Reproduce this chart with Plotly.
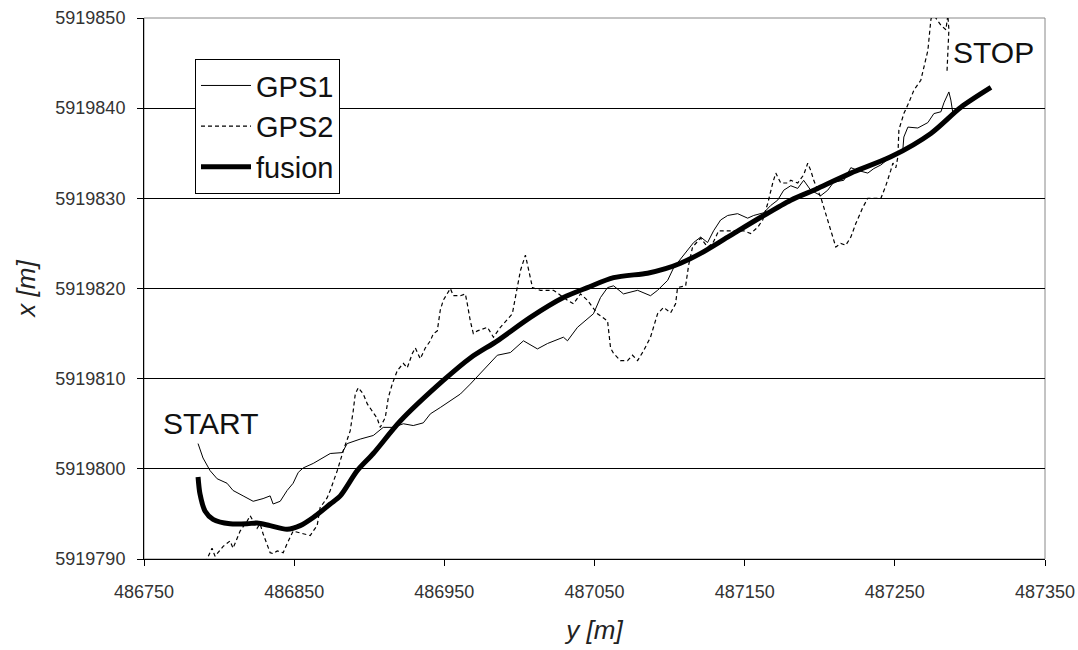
import plotly.graph_objects as go

# ---- data (y = easting [m], x = northing [m]) ----
fusion_y = [486786.0, 486787.3, 486790.7, 486796.0, 486807.3, 486818.7, 486825.3, 486834.0, 486845.3,
            486854.0, 486862.7, 486874.0, 486880.7, 486892.0, 486902.7, 486920.7, 486949.3, 486967.3,
            486985.3, 487007.3, 487029.3, 487045.3, 487062.7, 487085.3, 487097.3, 487107.3, 487120.7,
            487138.7, 487160.7, 487180.7, 487198.7, 487220.7, 487247.3, 487274.0, 487294.0, 487314.0]
fusion_x = [5919799.1, 5919797.2, 5919795.3, 5919794.4, 5919793.9, 5919793.9, 5919794.0, 5919793.7, 5919793.3,
            5919793.7, 5919794.6, 5919796.1, 5919797.0, 5919799.8, 5919801.7, 5919805.3, 5919809.8, 5919812.3,
            5919814.2, 5919816.8, 5919819.0, 5919820.1, 5919821.2, 5919821.7, 5919822.2, 5919822.8, 5919823.9,
            5919825.7, 5919827.9, 5919829.8, 5919831.1, 5919832.8, 5919834.6, 5919837.2, 5919840.1, 5919842.3]

gps1_y = [486786.0, 486789.3, 486794.0, 486798.7, 486805.3, 486809.3, 486816.0, 486822.7, 486829.3, 486834.0,
          486836.0, 486840.7, 486845.3, 486849.3, 486852.7, 486856.0, 486862.7, 486869.3, 486874.0, 486882.0,
          486885.3, 486894.0, 486902.7, 486909.3, 486916.0, 486922.7, 486929.3, 486936.0, 486940.7, 486947.3,
          486954.0, 486960.7, 486967.3, 486974.0, 486985.3, 486994.0, 487002.7, 487012.0, 487018.7, 487029.3,
          487032.0, 487038.7, 487049.3, 487054.0, 487058.7, 487062.7, 487069.3, 487078.7, 487087.3, 487092.0,
          487098.7, 487102.7, 487114.0, 487116.0, 487120.7, 487125.3, 487129.3, 487134.0, 487138.7, 487145.3,
          487152.0, 487156.0, 487162.7, 487167.3, 487172.0, 487176.0, 487180.7, 487185.3, 487189.3, 487194.0,
          487200.7, 487205.3, 487209.3, 487216.0, 487220.7, 487225.3, 487232.0, 487236.0, 487240.7, 487247.3,
          487252.0, 487255.3, 487256.0, 487258.7, 487265.3, 487272.0, 487276.0, 487280.7, 487282.7, 487286.0,
          487287.3, 487288.7]
gps1_x = [5919802.8, 5919801.2, 5919799.8, 5919798.9, 5919798.4, 5919797.6, 5919797.0, 5919796.4, 5919796.7, 5919797.0,
          5919796.1, 5919796.4, 5919797.6, 5919798.4, 5919799.6, 5919800.1, 5919800.6, 5919801.2, 5919801.7, 5919801.8,
          5919802.8, 5919803.3, 5919803.7, 5919804.6, 5919804.6, 5919805.0, 5919804.8, 5919805.1, 5919806.1, 5919806.8,
          5919807.6, 5919808.3, 5919809.4, 5919810.6, 5919812.6, 5919812.9, 5919814.2, 5919813.3, 5919813.9, 5919814.6,
          5919814.2, 5919815.7, 5919817.2, 5919819.0, 5919820.1, 5919820.3, 5919819.4, 5919819.8, 5919819.2, 5919819.8,
          5919820.9, 5919822.3, 5919824.6, 5919825.1, 5919825.7, 5919825.1, 5919826.4, 5919827.6, 5919828.1, 5919828.3,
          5919827.8, 5919828.1, 5919828.4, 5919829.2, 5919829.8, 5919830.9, 5919831.4, 5919831.1, 5919832.0, 5919830.9,
          5919830.3, 5919830.9, 5919831.8, 5919832.0, 5919833.4, 5919833.1, 5919832.8, 5919833.3, 5919833.7, 5919834.6,
          5919834.8, 5919835.3, 5919836.8, 5919837.9, 5919837.8, 5919838.4, 5919839.4, 5919839.6, 5919840.6, 5919841.8,
          5919840.9, 5919839.4]

gps2_y = [486790.7, 486792.0, 486795.3, 486797.3, 486802.7, 486807.3, 486809.3, 486814.0, 486818.7, 486820.7,
          486822.7, 486825.3, 486827.3, 486829.3, 486834.0, 486836.0, 486838.7, 486842.7, 486845.3, 486849.3,
          486856.0, 486860.7, 486862.7, 486865.3, 486867.3, 486872.0, 486874.0, 486878.7, 486882.7, 486887.3,
          486889.3, 486890.7, 486892.7, 486896.0, 486898.7, 486902.0, 486905.3, 486907.3, 486910.7, 486912.7,
          486915.3, 486918.7, 486922.7, 486925.3, 486928.7, 486930.7, 486934.0, 486937.3, 486940.7, 486942.7,
          486945.3, 486947.3, 486949.3, 486954.0, 486956.0, 486960.7, 486964.0, 486965.3, 486967.3, 486969.3,
          486972.0, 486978.7, 486982.7, 486987.3, 486995.3, 486997.3, 487000.7, 487004.0, 487006.0, 487008.7,
          487014.0, 487022.7, 487032.0, 487036.0, 487040.7, 487045.3, 487052.0, 487058.7, 487060.7, 487062.7,
          487067.3, 487072.0, 487075.3, 487078.7, 487082.7, 487087.3, 487092.0, 487096.0, 487100.7, 487104.0,
          487105.3, 487110.7, 487112.7, 487115.3, 487120.7, 487125.3, 487128.7, 487132.7, 487140.7, 487149.3,
          487154.0, 487158.7, 487162.0, 487165.3, 487168.7, 487170.7, 487174.0, 487178.7, 487180.7, 487185.3,
          487189.3, 487192.0, 487194.0, 487196.0, 487200.7, 487204.0, 487207.3, 487210.7, 487214.0, 487217.3,
          487220.7, 487224.0, 487228.7, 487232.0, 487240.7, 487244.0, 487247.3, 487248.7, 487250.7, 487252.0,
          487252.7, 487256.0, 487259.3, 487262.7, 487267.3, 487272.0, 487274.0, 487275.3, 487277.3, 487280.7,
          487284.0, 487285.3, 487286.0, 487284.7]
gps2_x = [5919789.6, 5919790.0, 5919791.2, 5919790.3, 5919791.4, 5919792.0, 5919791.2, 5919793.1, 5919794.2, 5919794.8,
          5919794.2, 5919793.4, 5919793.9, 5919792.8, 5919790.7, 5919790.6, 5919790.9, 5919790.7, 5919791.7, 5919793.1,
          5919792.8, 5919792.6, 5919793.1, 5919793.7, 5919795.7, 5919796.8, 5919797.6, 5919799.8, 5919802.0, 5919804.2,
          5919806.4, 5919808.3, 5919809.0, 5919808.3, 5919807.2, 5919806.4, 5919805.6, 5919804.6, 5919805.7, 5919807.9,
          5919809.4, 5919810.9, 5919811.7, 5919811.2, 5919812.8, 5919813.4, 5919812.2, 5919813.4, 5919814.2, 5919815.0,
          5919815.3, 5919817.6, 5919818.7, 5919820.0, 5919819.2, 5919819.2, 5919819.4, 5919818.3, 5919816.4, 5919815.0,
          5919815.3, 5919815.7, 5919814.6, 5919815.7, 5919817.2, 5919819.0, 5919822.0, 5919823.7, 5919822.3, 5919820.1,
          5919819.8, 5919819.8, 5919818.7, 5919818.3, 5919819.4, 5919818.7, 5919817.2, 5919816.4, 5919813.4, 5919812.8,
          5919812.0, 5919812.0, 5919812.6, 5919812.0, 5919813.1, 5919814.6, 5919817.2, 5919817.9, 5919817.3, 5919818.3,
          5919820.1, 5919820.3, 5919822.6, 5919824.6, 5919825.6, 5919824.6, 5919825.0, 5919826.4, 5919826.4, 5919826.4,
          5919826.1, 5919826.8, 5919827.6, 5919829.4, 5919831.7, 5919832.8, 5919831.7, 5919831.7, 5919832.0, 5919831.7,
          5919832.6, 5919833.9, 5919833.1, 5919832.0, 5919830.1, 5919828.3, 5919826.4, 5919824.6, 5919825.0, 5919824.8,
          5919825.7, 5919827.2, 5919829.0, 5919830.0, 5919830.0, 5919831.4, 5919833.1, 5919833.9, 5919833.4, 5919834.6,
          5919837.6, 5919839.4, 5919840.6, 5919842.0, 5919843.1, 5919846.4, 5919849.8, 5919850.7, 5919850.0, 5919849.2,
          5919848.7, 5919850.3, 5919848.7, 5919843.9]

x_ticks = [486750, 486850, 486950, 487050, 487150, 487250, 487350]
y_ticks = [5919790, 5919800, 5919810, 5919820, 5919830, 5919840, 5919850]

FONT = "Liberation Sans, Arial, sans-serif"

fig = go.Figure()
fig.add_trace(go.Scatter(x=gps1_y, y=gps1_x, mode="lines", name="GPS1",
                         line=dict(color="black", width=1)))
fig.add_trace(go.Scatter(x=gps2_y, y=gps2_x, mode="lines", name="GPS2",
                         line=dict(color="black", width=1.2, dash="4px,3px")))
fig.add_trace(go.Scatter(x=fusion_y, y=fusion_x, mode="lines", name="fusion",
                         line=dict(color="black", width=5, shape="spline", smoothing=0.8)))

fig.add_annotation(x=486794.7, y=5919805.0, text="START", showarrow=False,
                   font=dict(family=FONT, size=30, color="#111"))
fig.add_annotation(x=487316.0, y=5919846.2, text="STOP", showarrow=False,
                   font=dict(family=FONT, size=30, color="#111"))

fig.update_layout(
    width=1078, height=650,
    margin=dict(l=144, r=33, t=18, b=91, autoexpand=False),
    paper_bgcolor="white", plot_bgcolor="white",
    font=dict(family=FONT, color="#222"),
    showlegend=True,
    legend=dict(x=0.0566, y=0.924, xanchor="left", yanchor="top",
                bordercolor="black", borderwidth=1, bgcolor="white",
                font=dict(family=FONT, size=29, color="#111"),
                tracegroupgap=0, itemwidth=50),
    xaxis=dict(range=[486750, 487350], tickvals=x_ticks, ticktext=[str(v) for v in x_ticks],
               showgrid=False, zeroline=False, showline=True, linecolor="black", linewidth=1,
               ticks="outside", ticklen=6, tickcolor="black", automargin=False,
               ticklabelstandoff=10,
               tickfont=dict(family=FONT, size=18, color="#333"),
               title=dict(text="<i>y [m]</i>", font=dict(family=FONT, size=26, color="#222"), standoff=20)),
    yaxis=dict(range=[5919790, 5919850], tickvals=y_ticks, ticktext=[str(v) for v in y_ticks],
               showgrid=True, gridcolor="black", gridwidth=1, zeroline=False,
               showline=True, linecolor="black", linewidth=1,
               ticks="outside", ticklen=6, tickcolor="black", automargin=False,
               ticklabelstandoff=8,
               tickfont=dict(family=FONT, size=18, color="#333"),
               title=dict(text="<i>x [m]</i>", font=dict(family=FONT, size=26, color="#222"), standoff=12)),
    shapes=[dict(type="rect", xref="paper", yref="paper", x0=0, y0=0, x1=1, y1=1,
                 line=dict(color="#888", width=1), layer="below")],
)

# remove the browser's default 8px page margin so the figure fills the window exactly
fig.write_html("out.html", config={"displayModeBar": False},
               post_script="document.body.style.margin='0';document.body.style.overflow='hidden';")
